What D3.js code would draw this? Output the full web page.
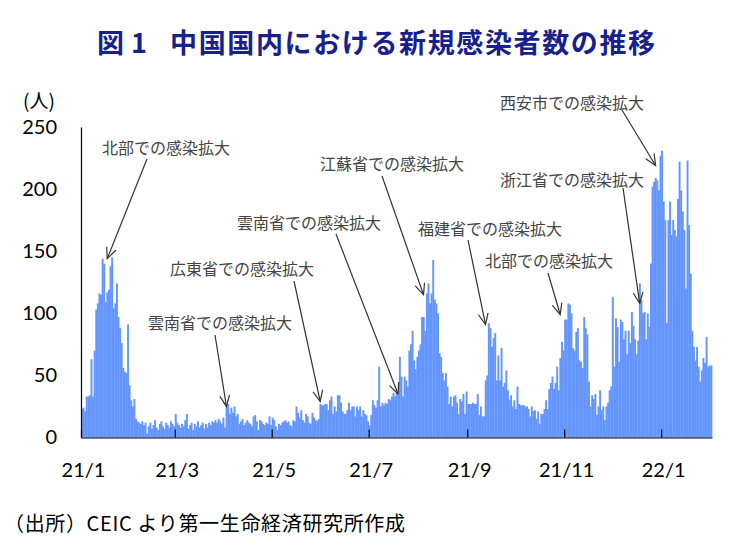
<!DOCTYPE html>
<html><head><meta charset="utf-8">
<script src="https://cdn.jsdelivr.net/npm/d3@7"></script>
<style>body{margin:0;background:#fff}</style>
</head><body><svg id="c" width="744" height="545"></svg>
<script>
// ---- data: daily new domestic infections (people), 2021/1/1 - 2022/1/31 ----
const firstDay = [2021, 0, 1];
const jan21 = [23,24,21,33,33,34,63,33,70,103,108,116,115,144,140,109,117,119,138,145,104,108,124,97,88,76,56,53,52,91,42];
const feb21 = [30,25,31,15,13,12,11,13,10,12,3,9,12,7,10,14,8,6,11,13,9,7,12,10,8,13,11,9];
const mar21 = [19,12,10,8,11,9,14,19,7,10,12,6,11,9,13,8,10,12,7,11,8,12,10,13,12,14,12,15,13,11,16];
const apr21 = [8,25,27,19,24,20,25,17,19,11,13,15,10,12,14,12,11,9,17,18,13,6,14,13,11,10,12,11,17,10];
const may21 = [16,14,9,6,11,10,12,13,14,12,13,10,9,14,13,25,20,16,22,14,12,19,17,12,11,20,16,14,13,15,27];
const jun21 = [26,26,27,27,22,30,33,19,25,21,34,34,28,21,19,19,22,28,22,25,25,17,25,22,25,17,22,19,18,13,10];
const jul21 = [18,30,26,24,30,57,25,28,26,28,27,31,30,33,36,33,36,34,65,49,33,49,46,41,70,75,86,62,55,65,70];
const aug21 = [75,97,97,86,116,124,108,116,143,111,108,100,68,65,52,46,52,41,27,33,25,33,34,28,19,31,29,35,19,37,27];
const sep21 = [27,27,28,27,27,35,18,25,17,17,46,50,92,88,73,80,84,46,66,46,72,41,44,54,38,30,34,25,30,23];
const oct21 = [41,27,26,26,26,25,25,23,17,25,21,22,15,21,11,19,19,23,30,23,39,44,49,39,44,57,38,64,77,70,95];
const nov21 = [95,108,107,100,72,70,85,88,62,61,56,97,88,83,45,25,34,31,35,18,25,38,22,25,14,25,28,38,41,113];
const dec21 = [57,96,89,61,95,93,79,86,67,86,76,101,90,79,67,78,124,111,100,101,79,100,89,140,202,206,209,207,199,227,231];
const jan22 = [190,175,92,175,190,163,175,167,162,192,222,199,182,167,120,223,171,132,86,73,62,73,57,45,54,64,60,81,57,58,58];

const yTickValues = [0, 50, 100, 150, 200, 250];
const xTickMonths = [[2021,0],[2021,2],[2021,4],[2021,6],[2021,8],[2021,10],[2022,0]];
const xTickLabels = ["21/1","21/3","21/5","21/7","21/9","21/11","22/1"];

const annotLabels = ["北部での感染拡大","雲南省での感染拡大","広東省での感染拡大","雲南省での感染拡大",
  "江蘇省での感染拡大","福建省での感染拡大","北部での感染拡大","浙江省での感染拡大","西安市での感染拡大"];
const annotDates = [[2021,0,17],[2021,3,2],[2021,4,31],[2021,6,19],[2021,7,4],[2021,8,12],[2021,9,29],[2021,11,18],[2021,11,28]];
const annotValues = [144, 25, 29, 35, 115, 91, 99, 108, 219];

// ---- build ----
const values = [].concat(jan21,feb21,mar21,apr21,may21,jun21,jul21,aug21,sep21,oct21,nov21,dec21,jan22);
const start = new Date(Date.UTC(...firstDay));
const days = values.map((v,i) => ({date: d3.utcDay.offset(start, i), value: v}));

const svg = d3.select("#c");
const W = 744, H = 545;
svg.append("rect").attr("width",W).attr("height",H).attr("fill","#fff");

const x = d3.scaleUtc()
  .domain([start, d3.utcDay.offset(start, values.length)])
  .range([81, 712]);
const y = d3.scaleLinear().domain([0, 250]).range([437.5, 127]);

// bars
svg.append("g").selectAll("rect").data(days).join("rect")
  .attr("x", d => x(d.date))
  .attr("width", d => x(d3.utcDay.offset(d.date,1)) - x(d.date) + 0.35)
  .attr("y", d => y(d.value))
  .attr("height", d => y(0) - y(d.value))
  .attr("fill", "#6495fc");

// x axis
const xAxis = d3.axisBottom(x)
  .tickValues(xTickMonths.map(m => new Date(Date.UTC(m[0], m[1], 1))))
  .tickFormat((d,i) => xTickLabels[i])
  .tickSizeInner(-8).tickSizeOuter(0).tickPadding(25);
const gx = svg.append("g").attr("transform", `translate(0,${y(0)})`).call(xAxis);
gx.select(".domain").attr("stroke","#000").attr("stroke-width",1.2);
gx.selectAll(".tick line").attr("stroke","#000").attr("stroke-width",1.2);
gx.selectAll(".tick text").attr("font-family","Lato, 'Open Sans', sans-serif")
  .attr("font-size",20).attr("fill","#000").attr("dx", 2);

// y axis
const yAxis = d3.axisLeft(y).tickValues(yTickValues).tickSize(0).tickPadding(24);
const gy = svg.append("g").attr("transform", `translate(81,0)`).call(yAxis);
gy.select(".domain").attr("stroke","#000").attr("stroke-width",1.2);
gy.selectAll(".tick text").attr("font-family","Lato, 'Open Sans', sans-serif")
  .attr("font-size",20).attr("fill","#000");

svg.append("text").attr("x", 23).attr("y", 99).attr("dominant-baseline","central")
  .attr("font-family","'Noto Sans CJK JP', sans-serif").attr("font-size",19).attr("fill","#000")
  .text("(人)");

// title
const title = svg.append("text").attr("y", 41).attr("dominant-baseline","central")
  .attr("font-family","'Noto Sans CJK JP', sans-serif").attr("font-weight",700)
  .attr("font-size",27).attr("fill","#18208c");
title.append("tspan").attr("x", 97).text("図");
title.append("tspan").attr("x", 131).text("1");
title.append("tspan").attr("x", 170).attr("textLength", 485).attr("lengthAdjust","spacing")
  .text("中国国内における新規感染者数の推移");

// annotations
const annotLayout = [
  {tx:102, ty:147, ax:147, ay:159},
  {tx:148, ty:322, ax:215, ay:335},
  {tx:170, ty:268, ax:294, ay:281},
  {tx:237, ty:222, ax:336, ay:234},
  {tx:320, ty:163, ax:382, ay:176},
  {tx:418, ty:228, ax:468, ay:240},
  {tx:485, ty:260, ax:548, ay:273},
  {tx:500, ty:179, ax:623, ay:188},
  {tx:500, ty:102, ax:622, ay:110}
];
const ga = svg.append("g");
annotLabels.forEach((lab, i) => {
  const L = annotLayout[i];
  const dt = new Date(Date.UTC(...annotDates[i]));
  const tipX = (x(dt) + x(d3.utcDay.offset(dt,1))) / 2;
  const tipY = y(annotValues[i]);
  ga.append("text").attr("x", L.tx).attr("y", L.ty).attr("dominant-baseline","central")
    .attr("font-family","'Noto Sans CJK JP', sans-serif").attr("font-size",16)
    .attr("fill","#444").text(lab);
  ga.append("line").attr("x1", L.ax).attr("y1", L.ay).attr("x2", tipX).attr("y2", tipY)
    .attr("stroke","#333").attr("stroke-width",1.2);
  const ang = Math.atan2(tipY - L.ay, tipX - L.ax);
  const len = 12, spread = 0.42;
  const p1 = [tipX - len*Math.cos(ang - spread), tipY - len*Math.sin(ang - spread)];
  const p2 = [tipX - len*Math.cos(ang + spread), tipY - len*Math.sin(ang + spread)];
  ga.append("path").attr("d", `M${p1[0]},${p1[1]}L${tipX},${tipY}L${p2[0]},${p2[1]}`)
    .attr("fill","none").attr("stroke","#333").attr("stroke-width",1.2);
});

// source
svg.append("text").attr("x", 4).attr("y", 522).attr("dominant-baseline","central")
  .attr("font-family","'Noto Sans CJK JP', sans-serif").attr("font-size",20).attr("fill","#000")
  .attr("textLength", 401).attr("lengthAdjust","spacing")
  .text("（出所）CEIC より第一生命経済研究所作成");
</script>
</body></html>
